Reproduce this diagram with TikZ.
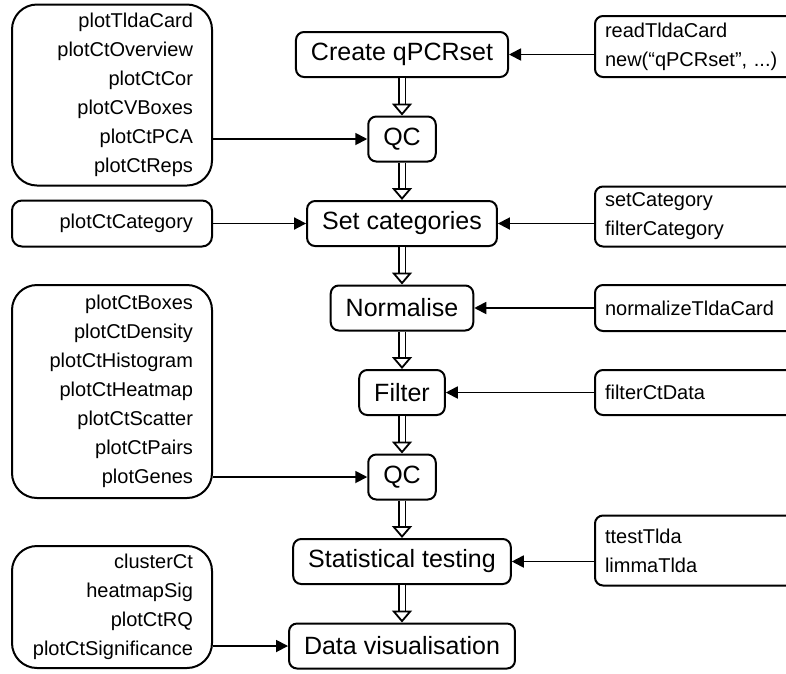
\documentclass[tikz,border=0pt]{standalone}
\usepackage{fontspec}
\setmainfont{Liberation Sans}
\usepackage{tikz}
\usetikzlibrary{arrows.meta, positioning}
\tikzstyle{process} = [rectangle, rounded corners=8pt, minimum height=45pt, inner xsep=15pt, text centered, draw=black, line width=2pt, font=\fontsize{25}{30}\selectfont]
\tikzstyle{plotbox} = [rectangle, rounded corners=25pt, text width=162pt, inner xsep=19pt, align=right, draw=black, line width=2pt, font=\fontsize{20}{29}\selectfont]
\tikzstyle{funcbox} = [rectangle, rounded corners=8pt, text width=180pt, inner xsep=10pt, align=left, draw=black, line width=2pt, font=\fontsize{20}{29}\selectfont]
\tikzstyle{arrow} = [line width=1.8pt, -{Triangle[length=12pt, width=12pt]}]
\tikzstyle{flow} = [double, double distance=5pt, line width=1.8pt, -{Triangle[open, length=12pt, width=20pt, line width=1.8pt]}]

\begin{document}
\begin{tikzpicture}[node distance=84.5pt]
        \useasboundingbox (0,0) rectangle (786pt,-673pt);
        % main workflow
        \node (create) [process] at (402pt,-54.5pt) {Create qPCRset};
        \node (qc1) [process, below of=create] {QC};
        \node (setcat) [process, below of=qc1] {Set categories};
        \node (norm) [process, below of=setcat] {Normalise};
        \node (filter) [process, below of=norm] {Filter};
        \node (qc2) [process, below of=filter] {QC};
        \node (stat) [process, below of=qc2] {Statistical testing};
        \node (datavis) [process, below of=stat] {Data visualisation};

        % plotting functions
        \node (plotqc1) [plotbox, left of=qc1, xshift=-205.5pt, yshift=44pt, minimum height=181pt] {plotTldaCard\\plotCtOverview\\plotCtCor\\plotCVBoxes\\plotCtPCA\\plotCtReps};
        \node (plotcat) [plotbox, left of=setcat, xshift=-205.5pt, rounded corners=10pt, minimum height=46pt] {plotCtCategory};
        \node (plotqc2) [plotbox, left of=qc2, xshift=-205.5pt, yshift=85.5pt, minimum height=213pt] {plotCtBoxes\\plotCtDensity\\plotCtHistogram\\plotCtHeatmap\\plotCtScatter\\plotCtPairs\\plotGenes};
        \node (plotvis) [plotbox, left of=datavis, xshift=-205.5pt, yshift=39pt, minimum height=122pt] {clusterCt\\heatmapSig\\plotCtRQ\\plotCtSignificance};

        % processing functions
        \node (readfun) [funcbox, right of=create, xshift=208.5pt, yshift=8pt, minimum height=61pt] {readTldaCard\\new(“qPCRset”, ...)};
        \node (catfun) [funcbox, right of=setcat, xshift=208.5pt, yshift=7pt, minimum height=60pt] {setCategory\\filterCategory};
        \node (normfun) [funcbox, right of=norm, xshift=208.5pt, minimum height=46pt] {normalizeTldaCard};
        \node (filtfun) [funcbox, right of=filter, xshift=208.5pt, minimum height=45pt] {filterCtData};
        \node (testfun) [funcbox, right of=stat, xshift=208.5pt, yshift=11pt, minimum height=70pt] {ttestTlda\\limmaTlda};

        \draw [flow] (create) -- (qc1);
        \draw [flow] (qc1) -- (setcat);
        \draw [flow] (setcat) -- (norm);
        \draw [flow] (norm) -- (filter);
        \draw [flow] (filter) -- (qc2);
        \draw [flow] (qc2) -- (stat);
        \draw [flow] (stat) -- (datavis);

        \draw [arrow] (plotqc1.east |- qc1) -- (qc1);
        \draw [arrow] (plotcat) -- (setcat);
        \draw [arrow] (plotqc2.east |- qc2) -- (qc2);
        \draw [arrow] (plotvis.east |- datavis) -- (datavis);

        \draw [arrow] (readfun.west |- create) -- (create);
        \draw [arrow] (catfun.west |- setcat) -- (setcat);
        \draw [arrow] (normfun) -- (norm);
        \draw [arrow] (filtfun) -- (filter);
        \draw [arrow] (testfun.west |- stat) -- (stat);
    \end{tikzpicture}
\end{document}
